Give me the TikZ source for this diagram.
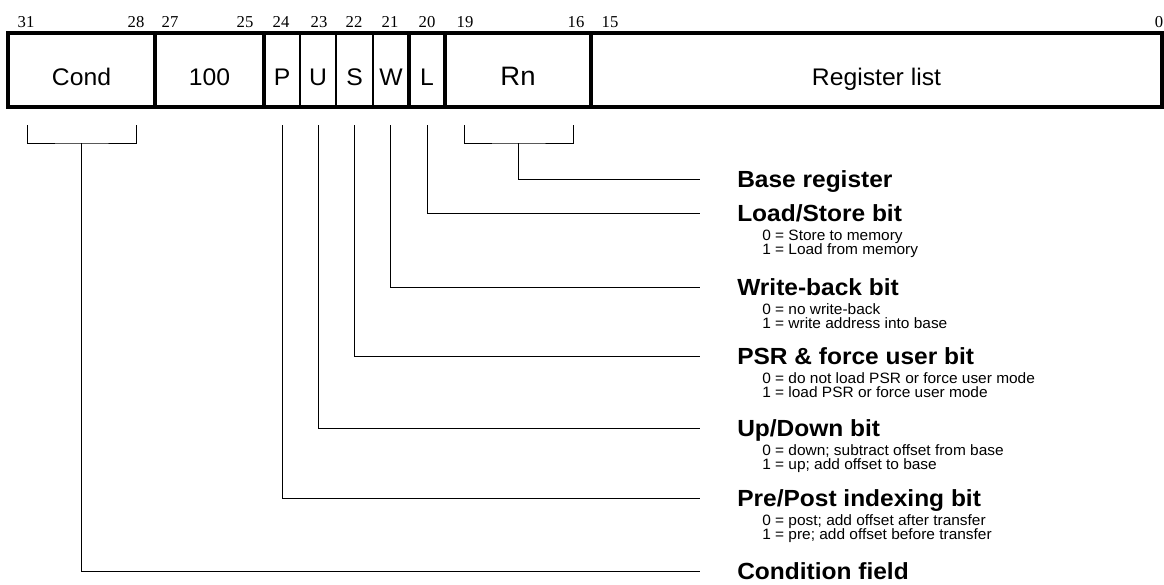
\documentclass[tikz,border=0pt]{standalone}
\usepackage{fontspec}
\setmainfont{Liberation Serif}
\newfontfamily\fieldfont[FakeStretch=1.03]{Liberation Sans}
\newfontfamily\headfont[FakeStretch=1.05]{Liberation Sans}
\newfontfamily\notefont[FakeStretch=1.03]{Liberation Sans}
\usetikzlibrary{positioning}
\tikzset{
  bitnum/.style={anchor=base, inner sep=0pt, font=\fontsize{12.5}{13}\selectfont},
  field/.style={anchor=base, inner sep=0pt, font=\fieldfont\fontsize{18}{19}\selectfont},
  bigfield/.style={field, font=\fieldfont\fontsize{20}{21}\selectfont},
  divider/.style={line width=2.3pt},
  thindivider/.style={line width=1.6pt},
  conn/.style={line width=0.75pt},
  head/.style={anchor=base west, inner sep=0pt, font=\headfont\bfseries\fontsize{17.5}{18}\selectfont},
  note/.style={anchor=base west, inner sep=0pt, font=\notefont\fontsize{11.25}{12}\selectfont},
}

\begin{document}
\begin{tikzpicture}[x=0.75pt, y=-0.75pt]
\useasboundingbox (0,0) rectangle (1164,585);

% -- bit numbers ------------------------------------------------------------
\foreach \b/\x in {31/26, 28/136, 27/170, 25/245, 24/281, 23/319, 22/354,
                   21/390, 20/427, 19/465, 16/576, 15/610, 0/1159}{
  \node[bitnum] (b\b) at (\x,28) {\b};
}

% -- instruction word -------------------------------------------------------
\draw[line width=2.6pt] (8,33) rectangle (1162,107);
\foreach \x in {155,264,409,445,591}{
  \draw[divider] (\x,33) -- (\x,107);
}
\foreach \x in {300,336,373}{
  \draw[thindivider] (\x,33) -- (\x,107);
}

% field labels
\node[field] (cond) at (81.5,85) {Cond};
\node[field] (code) at (209.5,85) {100};
\node[field] (fP) at (282,85) {P};
\node[field] (fU) at (318,85) {U};
\node[field] (fS) at (354.5,85) {S};
\node[field] (fW) at (391,85) {W};
\node[field] (fL) at (427,85) {L};
\node[bigfield] (fRn) at (518,86) {Rn};
\node[field] (reglist) at (876.5,85) {Register list};

% -- taps below the word ----------------------------------------------------
\coordinate (c31) at (27,125);
\coordinate (c28) at (136,125);
\coordinate (condjoin) at (81.5,143);
\coordinate (r19) at (464,125);
\coordinate (r16) at (573,125);
\coordinate (rnjoin) at (518.5,143);
\coordinate (tapP) at (282,125);
\coordinate (tapU) at (318,125);
\coordinate (tapS) at (354,125);
\coordinate (tapW) at (390,125);
\coordinate (tapL) at (427,125);

% line ends on the right
\coordinate (endRn) at (700,179);
\coordinate (endL) at (700,213);
\coordinate (endW) at (700,287);
\coordinate (endS) at (700,356);
\coordinate (endU) at (700,428);
\coordinate (endP) at (700,498);
\coordinate (endCond) at (700,571);

% brackets
\draw[conn] (c31) |- (condjoin) -| (c28);
\draw[conn] (r19) |- (rnjoin) -| (r16);

% connectors
\draw[conn] (rnjoin) |- (endRn);
\draw[conn] (tapL) |- (endL);
\draw[conn] (tapW) |- (endW);
\draw[conn] (tapS) |- (endS);
\draw[conn] (tapU) |- (endU);
\draw[conn] (tapP) |- (endP);
\draw[conn] (condjoin) |- (endCond);

% -- descriptions -----------------------------------------------------------
\node[head] (hRn) at (737,187.5) {Base register};

\node[head] (hL) at (737,221.5) {Load/Store bit};
\node[note] (hL0) at (762,240) {0 = Store to memory};
\node[note] (hL1) at (762,254.5) {1 = Load from memory};

\node[head] (hW) at (737,295.5) {Write-back bit};
\node[note] (hW0) at (762,314) {0 = no write-back};
\node[note] (hW1) at (762,328.5) {1 = write address into base};

\node[head] (hS) at (737,364.5) {PSR \& force user bit};
\node[note] (hS0) at (762,383) {0 = do not load PSR or force user mode};
\node[note] (hS1) at (762,397.5) {1 = load PSR or force user mode};

\node[head] (hU) at (737,436.5) {Up/Down bit};
\node[note] (hU0) at (762,455) {0 = down; subtract offset from base};
\node[note] (hU1) at (762,469.5) {1 = up; add offset to base};

\node[head] (hP) at (737,506.5) {Pre/Post indexing bit};
\node[note] (hP0) at (762,525) {0 = post; add offset after transfer};
\node[note] (hP1) at (762,539.5) {1 = pre; add offset before transfer};

\node[head] (hCond) at (737,579.5) {Condition field};

\end{tikzpicture}
\end{document}
